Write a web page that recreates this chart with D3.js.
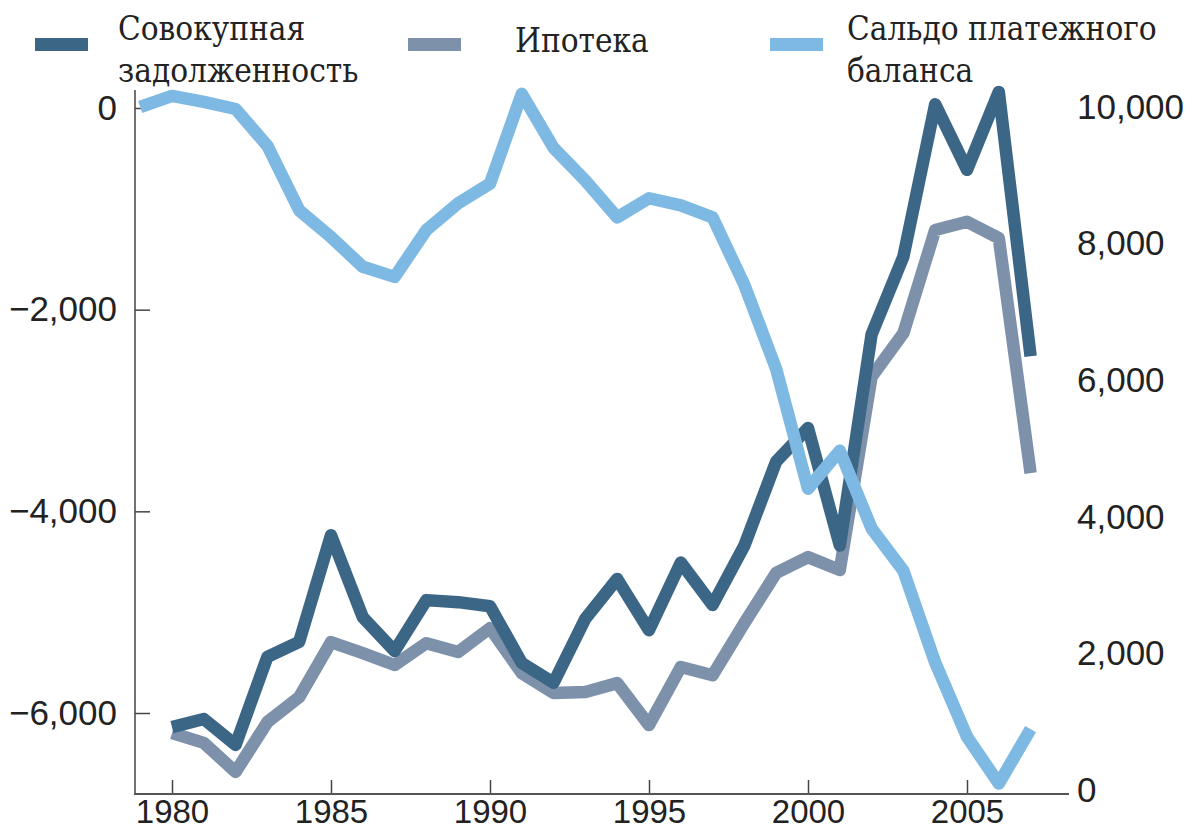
<!DOCTYPE html>
<html>
<head>
<meta charset="utf-8">
<script src="https://cdn.jsdelivr.net/npm/d3@7"></script>
<style>
  body { margin: 0; background: #fff; }
  .axis text { font-family: "Liberation Sans", Arial, sans-serif; font-size: 35px; fill: #222; }
  .axis.x text { font-size: 33px; }
  .legend text { font-family: "DejaVu Serif Condensed", "DejaVu Serif", serif; font-stretch: condensed; font-size: 33px; fill: #222; }
</style>
</head>
<body>
<script>
// data
let years = d3.range(1980, 2008);
let balanceYears = d3.range(1979, 2008);
let totalDebt = [920, 1040, 660, 1950, 2170, 3730, 2530, 2035, 2780, 2750, 2690, 1860, 1570, 2510, 3090, 2340, 3330, 2710, 3580, 4810, 5300, 3580, 6670, 7810, 10040, 9080, 10220, 6350];
let mortgage = [835, 690, 265, 995, 1360, 2165, 2005, 1830, 2150, 2020, 2370, 1710, 1420, 1435, 1565, 950, 1800, 1680, 2445, 3180, 3410, 3220, 6050, 6690, 8200, 8320, 8080, 4640];
let balance = [10, 120, 60, -10, -375, -1015, -1280, -1575, -1675, -1210, -945, -750, 140, -395, -720, -1085, -895, -965, -1085, -1755, -2590, -3775, -3400, -4170, -4590, -5500, -6235, -6700, -6160];
let leftTicks = [0, -2000, -4000, -6000];
let rightTicks = [0, 2000, 4000, 6000, 8000, 10000];
let xTicks = [1980, 1985, 1990, 1995, 2000, 2005];
let legendItems = [
  {lines: ['Совокупная', 'задолженность'], color: '#3c6686'},
  {lines: ['Ипотека'], color: '#7d91ab'},
  {lines: ['Сальдо платежного', 'баланса'], color: '#7db9e3'}
];

let width = 1197, height = 832;
let svg = d3.select('body').append('svg')
  .attr('width', width)
  .attr('height', height);

let xScale = d3.scaleLinear().domain([1980, 2005]).range([172, 967]);
let yLeft = d3.scaleLinear().domain([0, -6000]).range([108, 713]);
let yRight = d3.scaleLinear().domain([0, 10000]).range([790, 107]);

let fmt = d3.format(',');

// left axis
let leftAxis = svg.append('g')
  .attr('class', 'axis')
  .attr('transform', 'translate(135,0)')
  .call(d3.axisLeft(yLeft).tickValues(leftTicks).tickFormat(fmt).tickSize(-15).tickPadding(18));
leftAxis.select('.domain').remove();
leftAxis.selectAll('line').attr('stroke', '#444').attr('stroke-width', 1.5);
svg.append('line')
  .attr('x1', 135).attr('x2', 135).attr('y1', 90).attr('y2', 795)
  .attr('stroke', '#444').attr('stroke-width', 1.5);

// bottom axis
let bottomAxis = svg.append('g')
  .attr('class', 'axis x')
  .attr('transform', 'translate(0,794)')
  .call(d3.axisBottom(xScale).tickValues(xTicks).tickFormat(d3.format('d')).tickSize(-14).tickPadding(6));
bottomAxis.select('.domain').remove();
bottomAxis.selectAll('line').attr('stroke', '#444').attr('stroke-width', 1.5);
svg.append('line')
  .attr('x1', 134).attr('x2', 1069).attr('y1', 794).attr('y2', 794)
  .attr('stroke', '#555').attr('stroke-width', 2);

// right axis, labels only
let rightAxis = svg.append('g')
  .attr('class', 'axis')
  .attr('transform', 'translate(1077,0)')
  .call(d3.axisRight(yRight).tickValues(rightTicks).tickFormat(fmt).tickSize(0).tickPadding(0));
rightAxis.select('.domain').remove();

// lines
let lineR = d3.line().x((d, i) => xScale(years[i])).y(d => yRight(d));
let lineL = d3.line().x((d, i) => xScale(balanceYears[i])).y(d => yLeft(d));

svg.append('path').datum(mortgage)
  .attr('d', lineR).attr('fill', 'none')
  .attr('stroke', legendItems[1].color).attr('stroke-width', 12.5).attr('stroke-linejoin', 'round');
svg.append('path').datum(totalDebt)
  .attr('d', lineR).attr('fill', 'none')
  .attr('stroke', legendItems[0].color).attr('stroke-width', 12.5).attr('stroke-linejoin', 'round');
svg.append('path').datum(balance)
  .attr('d', lineL).attr('fill', 'none')
  .attr('stroke', legendItems[2].color).attr('stroke-width', 12.5).attr('stroke-linejoin', 'round');

// legend
let legendPos = [{x: 35, tx: 118, ty: 40}, {x: 408, tx: 515, ty: 52}, {x: 770, tx: 847, ty: 40}];
let legend = svg.append('g').attr('class', 'legend');
legendItems.forEach((item, i) => {
  let p = legendPos[i];
  legend.append('rect')
    .attr('x', p.x).attr('y', 38)
    .attr('width', 53).attr('height', 13)
    .attr('fill', item.color);
  item.lines.forEach((t, j) => {
    legend.append('text')
      .attr('x', p.tx).attr('y', p.ty + j * 42)
      .text(t);
  });
});
</script>
</body>
</html>
